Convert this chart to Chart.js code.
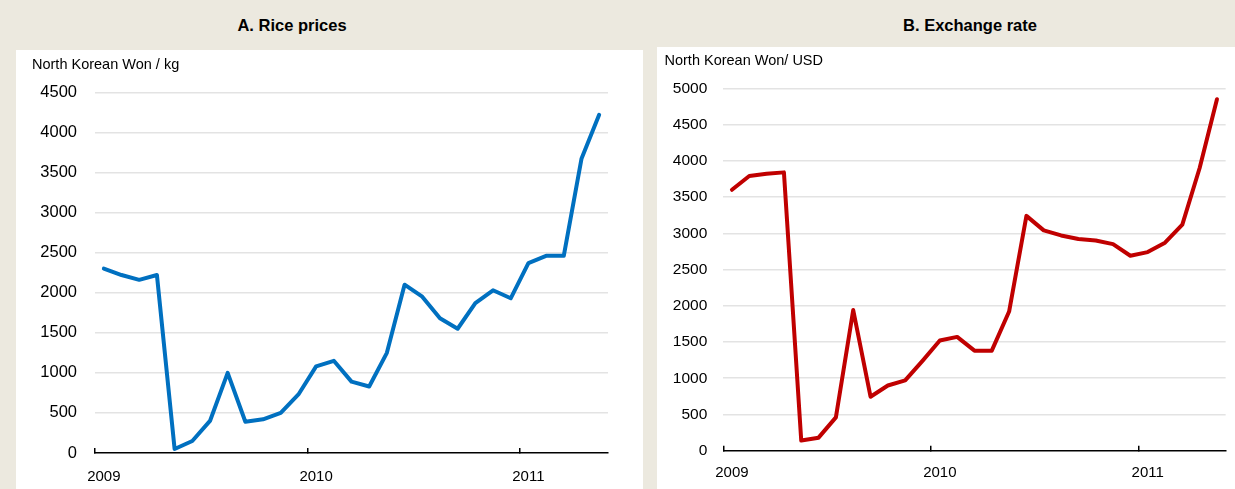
<!DOCTYPE html>
<html>
<head>
<meta charset="utf-8">
<script src="https://cdn.jsdelivr.net/npm/chart.js@4/dist/chart.umd.min.js"></script>
<style>
html, body { margin: 0; padding: 0; background: #ece9df; }
body { width: 1235px; height: 489px; position: relative; overflow: hidden;
       font-family: 'Liberation Sans', Arial, sans-serif; }
.panel { position: absolute; background: #fff; }
.head { position: absolute; font-weight: bold; font-size: 16.5px; line-height: 1; color: #000;
        transform: translateX(-50%); white-space: nowrap; }
</style>
</head>
<body>
<div class="head" style="left:292px;top:17px">A. Rice prices</div>
<div class="head" style="left:970px;top:17px">B. Exchange rate</div>
<div class="panel" style="left:16px;top:50px;width:627px;height:439px"><canvas id="riceChart"></canvas></div>
<div class="panel" style="left:657px;top:47px;width:578px;height:442px"><canvas id="fxChart"></canvas></div>

<script>
// monthly observations, Jan 2009 - May 2011
var months = ['Jan 2009','Feb 2009','Mar 2009','Apr 2009','May 2009','Jun 2009','Jul 2009','Aug 2009',
              'Sep 2009','Oct 2009','Nov 2009','Dec 2009','Jan 2010','Feb 2010','Mar 2010','Apr 2010',
              'May 2010','Jun 2010','Jul 2010','Aug 2010','Sep 2010','Oct 2010','Nov 2010','Dec 2010',
              'Jan 2011','Feb 2011','Mar 2011','Apr 2011','May 2011'];
var yearTicks = ['2009', '2010', '2011'];

// A. rice prices, North Korean Won / kg
var ricePrices = [2300, 2220, 2160, 2220, 50, 150, 400, 1000, 390, 420, 500, 730,
                  1080, 1150, 890, 830, 1250, 2100, 1950, 1680, 1550, 1870, 2030, 1930,
                  2370, 2460, 2460, 3670, 4220];

// B. exchange rate, North Korean Won / USD
var exchangeRate = [3600, 3790, 3820, 3840, 140, 180, 460, 1940, 745, 900, 970, 1240,
                    1520, 1570, 1380, 1380, 1920, 3240, 3040, 2970, 2920, 2900, 2850, 2690,
                    2740, 2870, 3120, 3900, 4850];

var FONT = "'Liberation Sans', Arial, sans-serif";

function yearMark(ctx) {
    return (ctx.index !== undefined && ctx.index % 12 === 0) ? '#000' : 'rgba(0,0,0,0)';
}

function buildChart(canvasId, values, lineColor, yMax, unitLabel, box) {
    return new Chart(document.getElementById(canvasId), {
        type: 'line',
        data: {
            labels: months,
            datasets: [{
                data: values,
                borderColor: lineColor,
                borderWidth: 4,
                pointRadius: 0,
                tension: 0,
                borderJoinStyle: 'round',
                borderCapStyle: 'round'
            }]
        },
        options: {
            responsive: true,
            maintainAspectRatio: false,
            animation: false,
            layout: { padding: { left: box.padLeft, right: box.padRight, top: 0, bottom: 0 } },
            plugins: {
                legend: { display: false },
                tooltip: { enabled: false },
                title: {
                    display: true,
                    text: unitLabel,
                    align: 'start',
                    color: '#000',
                    font: { family: FONT, size: 14.5, weight: 'normal' },
                    padding: { top: box.titleTop, bottom: box.titleBottom }
                }
            },
            scales: {
                x: {
                    offset: true,
                    border: { display: true, color: '#000', width: 1.5 },
                    grid: {
                        offset: true,
                        drawOnChartArea: false,
                        drawTicks: true,
                        tickLength: -5,
                        lineWidth: 1.5,
                        color: yearMark,
                        tickColor: yearMark
                    },
                    ticks: {
                        autoSkip: false,
                        maxRotation: 0,
                        padding: box.xPad,
                        color: '#000',
                        font: { family: FONT, size: box.xFont },
                        callback: function(v, i) { return i % 12 === 0 ? yearTicks[i / 12] : ''; }
                    },
                    afterFit: function(s) { s.height = box.xHeight; }
                },
                y: {
                    min: 0,
                    max: yMax,
                    border: { display: false },
                    grid: {
                        drawTicks: false,
                        lineWidth: 1.5,
                        color: function(ctx) { return ctx.tick && ctx.tick.value === 0 ? 'rgba(0,0,0,0)' : '#e3e3e3'; }
                    },
                    ticks: {
                        stepSize: 500,
                        padding: box.yPad,
                        color: '#000',
                        font: { family: FONT, size: box.yFont },
                        callback: function(v) { return String(v); }
                    },
                    afterFit: function(s) { s.width = box.yWidth; }
                }
            }
        }
    });
}

buildChart('riceChart', ricePrices, '#0070c0', 4500, 'North Korean Won / kg', {
    padLeft: 16, padRight: 35, yWidth: 63, yPad: 18, yFont: 16.5,
    xHeight: 36, xPad: 19.5, xFont: 15, titleTop: 6.3, titleBottom: 18.6
});

buildChart('fxChart', exchangeRate, '#c00000', 5000, 'North Korean Won/ USD', {
    padLeft: 7.5, padRight: 2, yWidth: 58.8, yPad: 16, yFont: 15.5,
    xHeight: 38.3, xPad: 18, xFont: 15, titleTop: 5.3, titleBottom: 18.6
});
</script>
</body>
</html>
